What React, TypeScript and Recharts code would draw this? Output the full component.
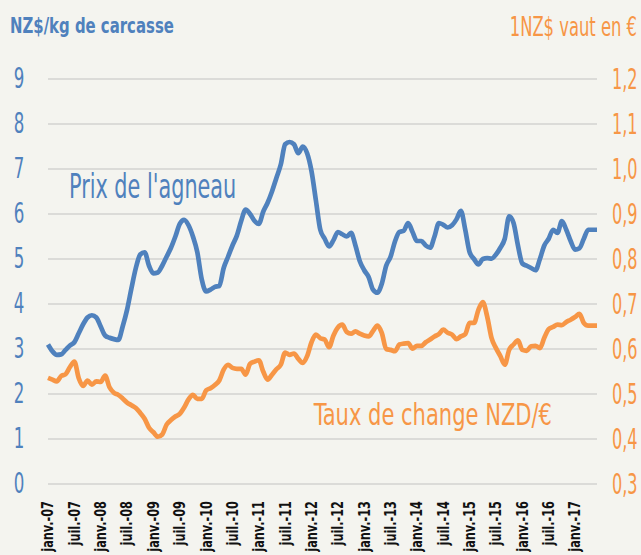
import React from "react";
import { LineChart, Line, XAxis, YAxis, CartesianGrid } from "recharts";

const MONTHS = ["janv.", "févr.", "mars", "avr.", "mai", "juin", "juil.", "août", "sept.", "oct.", "nov.", "déc."];
const YEARS = ["07", "08", "09", "10", "11", "12", "13", "14", "15", "16", "17"];

// prix de l'agneau, NZ$/kg de carcasse, janv.-07 -> juin-17
const lambPrice = [
  3.1, 2.95, 2.87, 2.88, 2.98, 3.08, 3.15, 3.35, 3.55, 3.7, 3.75, 3.7,
  3.5, 3.3, 3.25, 3.22, 3.2, 3.5, 3.87, 4.35, 4.8, 5.1, 5.15, 4.85,
  4.68, 4.7, 4.85, 5.05, 5.25, 5.5, 5.78, 5.87, 5.75, 5.5, 5.15, 4.55,
  4.28, 4.32, 4.38, 4.4, 4.8, 5.05, 5.3, 5.52, 5.85, 6.1, 6.0, 5.85,
  5.78, 6.05, 6.25, 6.5, 6.8, 7.1, 7.55, 7.6, 7.55, 7.35, 7.5, 7.35,
  6.95, 6.3, 5.65, 5.45, 5.28, 5.42, 5.6, 5.55, 5.5, 5.58, 5.3, 4.95,
  4.75, 4.6, 4.32, 4.25, 4.45, 4.85, 5.05, 5.39, 5.6, 5.63, 5.8, 5.6,
  5.4, 5.4, 5.3, 5.25, 5.5, 5.8, 5.76, 5.7, 5.75, 5.88, 6.07, 5.65,
  5.15, 5.0, 4.88, 5.0, 5.02, 5.01, 5.1, 5.25, 5.45, 5.95, 5.8, 5.3,
  4.9, 4.85, 4.8, 4.75, 5.0, 5.3, 5.45, 5.65, 5.58, 5.84, 5.65, 5.4,
  5.21, 5.24, 5.45, 5.65, 5.65, 5.65,
];

// 1 NZ$ en €
const nzdEur = [
  0.536, 0.532, 0.528, 0.54, 0.544, 0.56, 0.572, 0.535, 0.518, 0.53, 0.521, 0.528,
  0.527, 0.541, 0.515, 0.503, 0.498, 0.49, 0.481, 0.475, 0.469, 0.458, 0.445, 0.425,
  0.415, 0.405, 0.41, 0.432, 0.442, 0.45, 0.456, 0.47, 0.488, 0.498, 0.489, 0.489,
  0.508, 0.513, 0.52, 0.53, 0.554, 0.565, 0.558, 0.556, 0.556, 0.543, 0.567, 0.572,
  0.575, 0.55, 0.532, 0.543, 0.555, 0.565, 0.592, 0.587, 0.59, 0.578, 0.569, 0.584,
  0.615, 0.632, 0.624, 0.621, 0.604, 0.63, 0.648, 0.654, 0.638, 0.634, 0.639, 0.634,
  0.63, 0.628, 0.64, 0.652, 0.636, 0.6, 0.598, 0.595, 0.61, 0.612, 0.613, 0.601,
  0.607, 0.607, 0.615, 0.621, 0.628, 0.633, 0.643, 0.636, 0.632, 0.622, 0.628, 0.633,
  0.658, 0.658, 0.687, 0.704, 0.672, 0.624, 0.602, 0.584, 0.565, 0.598, 0.61, 0.619,
  0.598, 0.596, 0.606, 0.607, 0.602, 0.625, 0.644, 0.649, 0.654, 0.653, 0.66, 0.665,
  0.671, 0.678, 0.658, 0.652, 0.652, 0.652,
];

const leftTicks = [0, 1, 2, 3, 4, 5, 6, 7, 8, 9];
const rightTicks = [0.3, 0.4, 0.5, 0.6, 0.7, 0.8, 0.9, 1.0, 1.1, 1.2];

const data = lambPrice.map((price, i) => ({
  label: `${MONTHS[i % 12]}-${YEARS[Math.floor(i / 12)]}`,
  price,
  rate: nzdEur[i],
}));

const BLUE = "#4f81bd";
const ORANGE = "#f79646";
const FONT = "'DejaVu Sans Condensed', 'DejaVu Sans', sans-serif";

const XTick = ({ x, y, payload }: any) => (
  <text
    transform={`translate(${x},${y + 9}) rotate(-90) scale(0.84,1)`}
    textAnchor="end"
    dominantBaseline="central"
    fontFamily={FONT}
    fontWeight="bold"
    fontSize={15}
    fill="#111"
  >
    {payload.value}
  </text>
);

const LeftTick = ({ y, payload }: any) => (
  <text
    transform={`translate(19,${y}) scale(0.66,1)`}
    textAnchor="middle"
    dominantBaseline="central"
    fontFamily={FONT}
    fontSize={28}
    fill={BLUE}
  >
    {payload.value}
  </text>
);

const RightTick = ({ y, payload }: any) => (
  <text
    transform={`translate(612,${y}) scale(0.64,1)`}
    textAnchor="start"
    dominantBaseline="central"
    fontFamily={FONT}
    fontSize={28}
    fill={ORANGE}
  >
    {payload.value.toFixed(1).replace(".", ",")}
  </text>
);

export default function App() {
  return (
    <div style={{ position: "relative", width: 641, height: 555, background: "#f4f4ef", overflow: "hidden" }}>
      <style>{"body{margin:0}"}</style>
      <LineChart width={641} height={555} data={data} margin={{ top: 79, right: 0, left: 0, bottom: 0 }}>
        <CartesianGrid yAxisId="left" vertical={false} stroke="#d3d3d0" strokeWidth={1.5} />
        <XAxis dataKey="label" interval={5} height={71} axisLine={false} tickLine={false} tick={<XTick />} />
        <YAxis
          yAxisId="left"
          domain={[0, 9]}
          ticks={leftTicks}
          width={48}
          axisLine={false}
          tickLine={false}
          tick={<LeftTick />}
        />
        <YAxis
          yAxisId="right"
          orientation="right"
          domain={[0.3, 1.2]}
          ticks={rightTicks}
          width={44}
          axisLine={false}
          tickLine={false}
          tick={<RightTick />}
        />
        <Line yAxisId="left" type="monotone" dataKey="price" stroke={BLUE} strokeWidth={4.7} dot={false} isAnimationActive={false} strokeLinejoin="round" />
        <Line yAxisId="right" type="monotone" dataKey="rate" stroke={ORANGE} strokeWidth={4.7} dot={false} isAnimationActive={false} strokeLinejoin="round" />
      </LineChart>
      <svg width={641} height={555} style={{ position: "absolute", left: 0, top: 0, pointerEvents: "none" }}>
        <text transform="translate(10,33) scale(0.79,1)" fontFamily={FONT} fontWeight="bold" fontSize={21} fill={BLUE}>
          NZ$/kg de carcasse
        </text>
        <text transform="translate(637,36) scale(0.7,1)" textAnchor="end" fontFamily={FONT} fontSize={26} fill={ORANGE}>
          1NZ$ vaut en €
        </text>
        <text transform="translate(69,198) scale(0.68,1)" fontFamily={FONT} fontSize={34} fill={BLUE}>
          Prix de l'agneau
        </text>
        <text transform="translate(552,425) scale(0.78,1)" textAnchor="end" fontFamily={FONT} fontSize={30} fill={ORANGE}>
          Taux de change NZD/€
        </text>
      </svg>
    </div>
  );
}
